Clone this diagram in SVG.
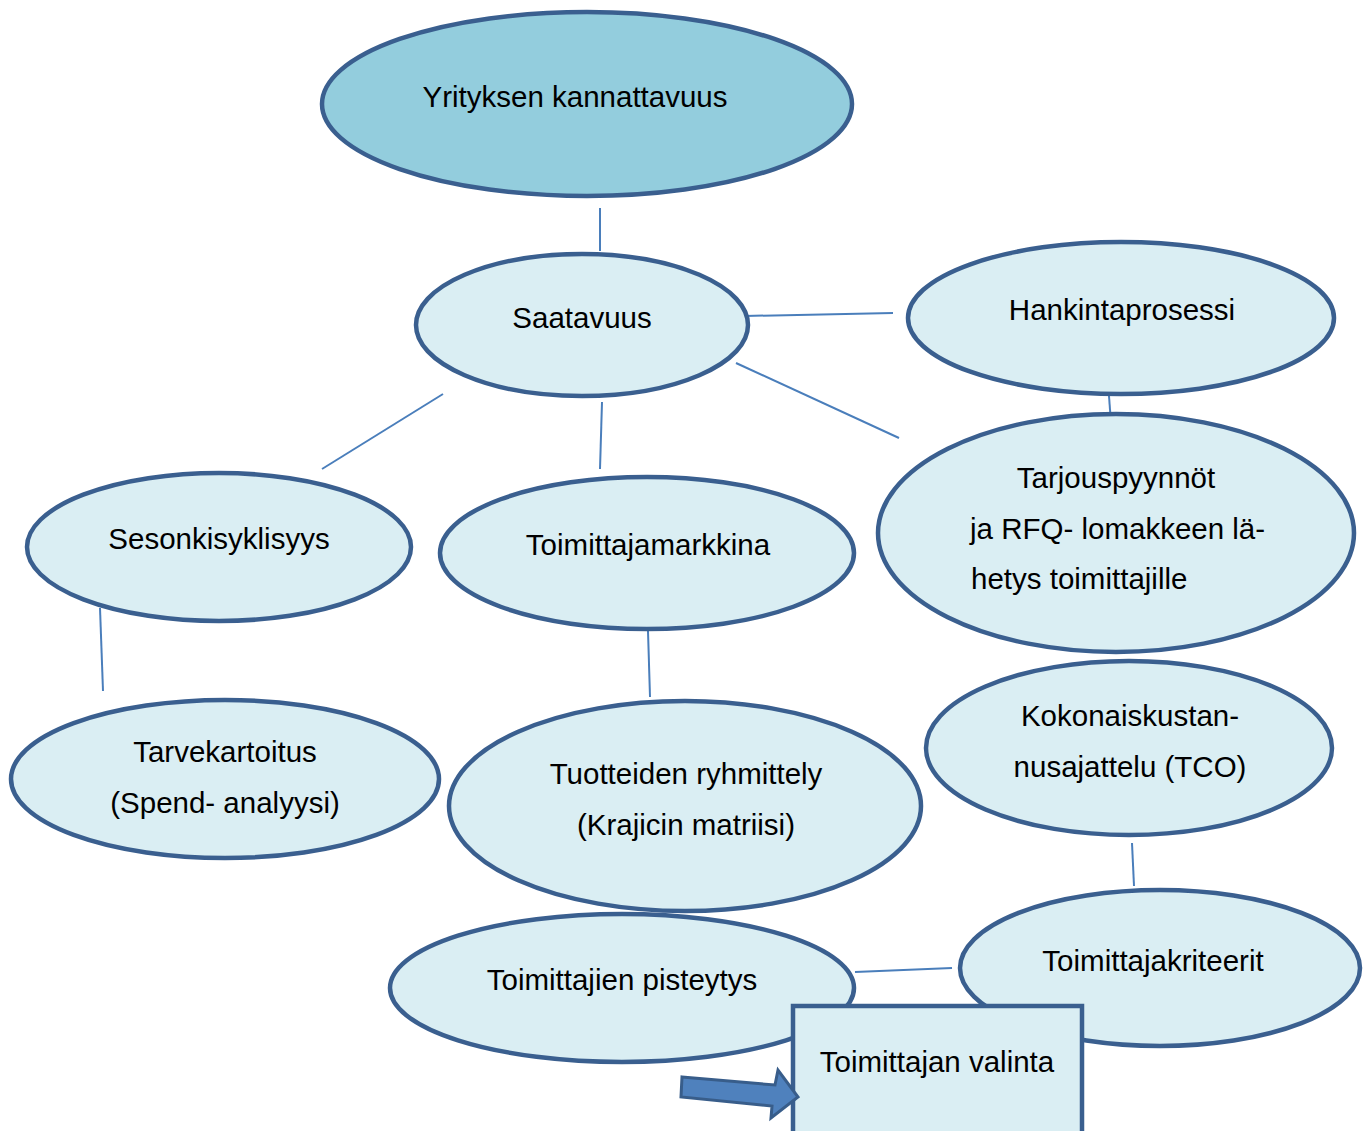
<svg xmlns="http://www.w3.org/2000/svg" width="1368" height="1131" viewBox="0 0 1368 1131">
  <style>
    .node { fill: #daeef3; stroke: #3a5f8f; stroke-width: 4.5; }
    .top { fill: #93cddd; }
    .link { stroke: #4a7ebb; stroke-width: 2; fill: none; }
    text { font-family: "Liberation Sans", Arial, sans-serif; font-size: 29.5px; fill: #000; }
    .c { text-anchor: middle; }
  </style>
  <rect width="1368" height="1131" fill="#fff"/>

  <!-- connectors -->
  <g id="connectors">
    <line class="link" x1="600" y1="208" x2="600" y2="251"/>
    <line class="link" x1="745" y1="316" x2="893" y2="313"/>
    <line class="link" x1="736" y1="363" x2="899" y2="438"/>
    <line class="link" x1="443" y1="394" x2="322" y2="469"/>
    <line class="link" x1="602" y1="402" x2="600" y2="469"/>
    <line class="link" x1="1109" y1="396" x2="1111" y2="423"/>
    <line class="link" x1="100" y1="608" x2="103" y2="691"/>
    <line class="link" x1="648" y1="631" x2="650" y2="697"/>
    <line class="link" x1="1111" y1="596" x2="1111" y2="643"/>
    <line class="link" x1="1132" y1="843" x2="1134" y2="886"/>
    <line class="link" x1="855" y1="972" x2="952" y2="968"/>
  </g>

  <g id="yrityksen-kannattavuus">
    <ellipse class="node top" cx="587" cy="104" rx="265" ry="92"/>
    <text class="c" x="575" y="107">Yrityksen kannattavuus</text>
  </g>
  <g id="saatavuus">
    <ellipse class="node" cx="582" cy="325" rx="166" ry="71"/>
    <text class="c" x="582" y="328">Saatavuus</text>
  </g>
  <g id="hankintaprosessi">
    <ellipse class="node" cx="1121" cy="318" rx="213" ry="76"/>
    <text class="c" x="1122" y="320">Hankintaprosessi</text>
  </g>
  <g id="sesonkisyklisyys">
    <ellipse class="node" cx="219" cy="547" rx="192" ry="74"/>
    <text class="c" x="219" y="549">Sesonkisyklisyys</text>
  </g>
  <g id="toimittajamarkkina">
    <ellipse class="node" cx="647" cy="553" rx="207" ry="76"/>
    <text class="c" x="648" y="555">Toimittajamarkkina</text>
  </g>
  <g id="tarjouspyynnot">
    <ellipse class="node" cx="1116" cy="533" rx="238" ry="119"/>
    <text class="c" x="1116" y="488">Tarjouspyynnöt</text>
    <text x="970" y="539">ja RFQ- lomakkeen lä-</text>
    <text x="971" y="589">hetys toimittajille</text>
  </g>
  <g id="tarvekartoitus">
    <ellipse class="node" cx="225" cy="779" rx="214" ry="79"/>
    <text class="c" x="225" y="762">Tarvekartoitus</text>
    <text class="c" x="225" y="813">(Spend- analyysi)</text>
  </g>
  <g id="tuotteiden-ryhmittely">
    <ellipse class="node" cx="685" cy="806" rx="236" ry="105"/>
    <text class="c" x="686" y="784">Tuotteiden ryhmittely</text>
    <text class="c" x="686" y="835">(Krajicin matriisi)</text>
  </g>
  <g id="kokonaiskustannusajattelu">
    <ellipse class="node" cx="1129" cy="748" rx="203" ry="87"/>
    <text class="c" x="1130" y="726">Kokonaiskustan-</text>
    <text class="c" x="1130" y="777">nusajattelu (TCO)</text>
  </g>
  <g id="toimittajakriteerit">
    <ellipse class="node" cx="1160" cy="968" rx="200" ry="78"/>
    <text class="c" x="1153" y="971">Toimittajakriteerit</text>
  </g>
  <g id="toimittajien-pisteytys">
    <ellipse class="node" cx="622" cy="988" rx="232" ry="74"/>
    <text class="c" x="622" y="990">Toimittajien pisteytys</text>
  </g>
  <g id="toimittajan-valinta">
    <rect class="node" x="793" y="1006" width="289" height="140"/>
    <text class="c" x="937" y="1072">Toimittajan valinta</text>
  </g>
  <g id="arrow">
    <polygon points="682,1077 775,1085 778,1070 798,1097 771,1118 772,1106 681,1097" fill="#4f81bd" stroke="#385d8a" stroke-width="3" stroke-linejoin="miter"/>
  </g>
</svg>
